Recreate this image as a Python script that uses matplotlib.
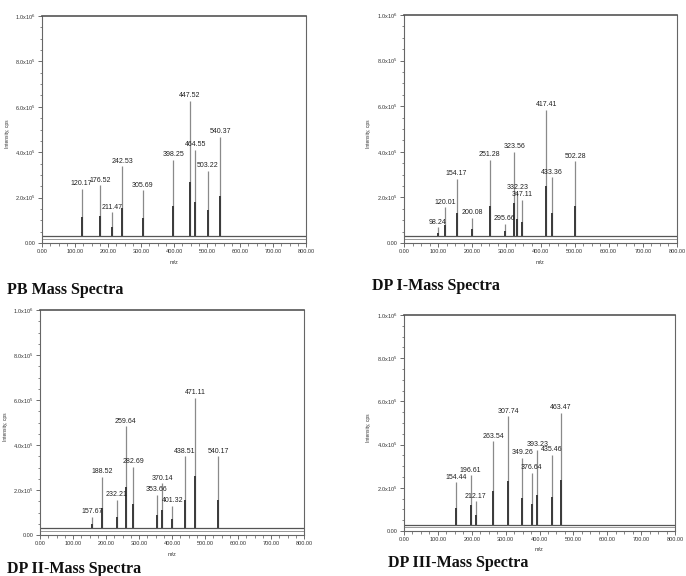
import matplotlib
matplotlib.use('Agg')
import matplotlib.pyplot as plt
from matplotlib.ticker import MultipleLocator, FixedLocator
import numpy as np

# peak m/z values and intensities (cps)
pb_mz = [120.17, 176.52, 211.47, 242.53, 305.69, 398.25, 447.52, 464.55, 503.22, 540.37]
pb_int = [2.38e5, 2.54e5, 1.35e5, 3.38e5, 2.32e5, 3.67e5, 6.26e5, 4.10e5, 3.19e5, 4.68e5]

dp1_mz = [98.24, 120.01, 154.17, 200.08, 251.28, 295.66, 323.56, 332.23, 347.11, 417.41, 433.36, 502.28]
dp1_int = [0.69e5, 1.56e5, 2.82e5, 1.09e5, 3.65e5, 0.85e5, 3.99e5, 2.22e5, 1.90e5, 5.84e5, 2.88e5, 3.58e5]

dp2_mz = [157.67, 188.52, 232.21, 259.64, 282.69, 353.66, 370.14, 401.32, 438.51, 471.11, 540.17]
dp2_int = [0.82e5, 2.60e5, 1.56e5, 4.83e5, 3.02e5, 1.78e5, 2.30e5, 1.31e5, 3.49e5, 6.09e5, 3.49e5]

dp3_mz = [154.44, 196.61, 212.17, 263.54, 307.74, 349.26, 376.64, 393.23, 435.46, 463.47]
dp3_int = [2.26e5, 2.58e5, 1.38e5, 4.15e5, 5.31e5, 3.38e5, 2.69e5, 3.77e5, 3.54e5, 5.46e5]

titles = ['PB Mass Spectra', 'DP I-Mass Spectra', 'DP II-Mass Spectra', 'DP III-Mass Spectra']

y_ticks = [0, 2e5, 4e5, 6e5, 8e5, 1e6]
y_ticklabels = ['0.00', '2.0x10$^5$', '4.0x10$^5$', '6.0x10$^5$', '8.0x10$^5$', '1.0x10$^6$']
x_ticks = [0, 100, 200, 300, 400, 500, 600, 700, 800]
x_ticklabels = ['%.2f' % v for v in x_ticks]

baseline = 3.0e4
boxline = 1.8e4

small = ['Liberation Sans Narrow', 'Liberation Sans', 'DejaVu Sans']

fig = plt.figure(figsize=(6.86, 5.76), dpi=100)

W, H = 686.0, 576.0
# axes boxes in pixels: left, right, top, bottom
boxes = [(42, 306, 16, 243), (404, 677, 15, 243), (40, 304, 310, 535), (404, 675, 315, 531)]
caps = [(7, 290), (372, 286), (7, 569), (388, 563)]
data = [(pb_mz, pb_int), (dp1_mz, dp1_int), (dp2_mz, dp2_int), (dp3_mz, dp3_int)]

for (l, r, t, b), (cx, cy), (mz, inten), title in zip(boxes, caps, data, titles):
    ax = fig.add_axes([l / W, 1 - b / H, (r - l) / W, (b - t) / H])
    ax.set_xlim(0, 800)
    ax.set_ylim(0, 1e6)

    mz = np.array(mz)
    inten = np.array(inten)
    ax.vlines(mz, baseline, inten, color='#8a8a8a', lw=0.9)
    ax.vlines(mz, baseline, baseline + 0.4 * (inten - baseline), color='#3a3a3a', lw=1.4)
    ax.axhline(baseline, color='#555555', lw=0.9)
    ax.axhline(boxline, color='#999999', lw=0.7)

    for x, y in zip(mz, inten):
        ax.annotate('%.2f' % x, (x, y), xytext=(0, 1.2), textcoords='offset points',
                    ha='center', va='bottom', fontsize=5, family=small, color='#222222')

    ax.yaxis.set_major_locator(FixedLocator(y_ticks))
    ax.set_yticklabels(y_ticklabels, family=small, fontsize=4, color='#333333')
    ax.yaxis.set_minor_locator(MultipleLocator(5e4))
    ax.xaxis.set_major_locator(FixedLocator(x_ticks))
    ax.set_xticklabels(x_ticklabels, family=small, fontsize=4, color='#333333')
    ax.xaxis.set_minor_locator(MultipleLocator(25))
    ax.tick_params(which='major', length=3, width=0.6, pad=1.5, color='#555555')
    ax.tick_params(which='minor', length=1.8, width=0.5, color='#555555')

    for s in ax.spines.values():
        s.set_color('#666666')
        s.set_linewidth(0.8)
    ax.spines['top'].set_linewidth(1.2)
    ax.spines['top'].set_color('#555555')

    ax.set_ylabel('Intensity, cps', family=small, fontsize=3.5, color='#333333')
    ax.yaxis.set_label_coords(-0.12, 0.48)
    ax.set_xlabel('m/z', family=small, fontsize=4, color='#333333')
    ax.xaxis.set_label_coords(0.5, -0.075)

    fig.text(cx / W, 1 - cy / H, title, family=['Liberation Serif', 'DejaVu Serif'],
             fontweight='bold', fontsize=11.5, ha='left', va='center', color='#111111')

fig.savefig('out.png', dpi=100)
